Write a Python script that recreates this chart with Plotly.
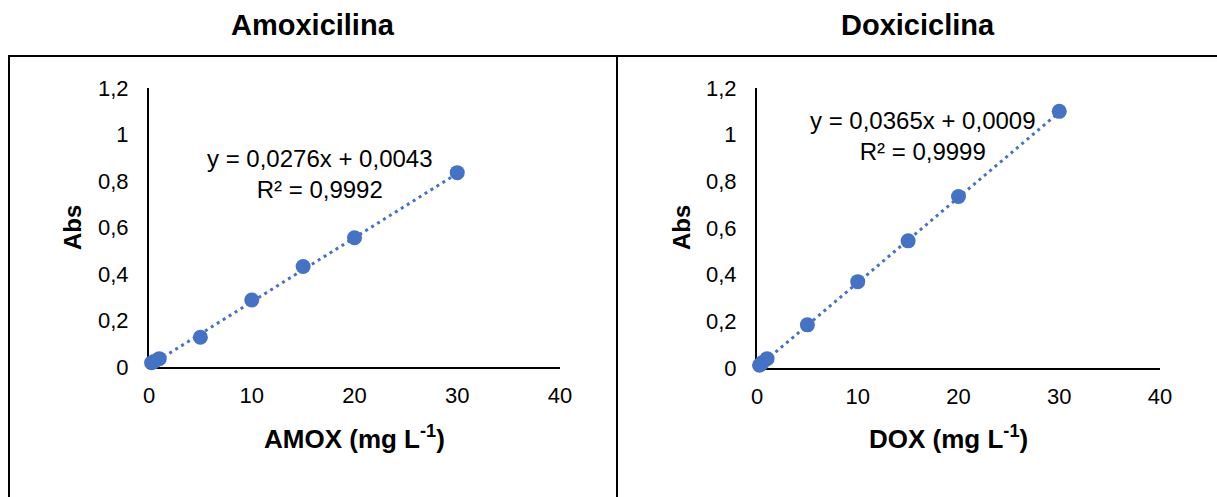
import numpy as np
import plotly.graph_objects as go

W, H = 1217, 497

# ---- data ----
titles = ["Amoxicilina", "Doxiciclina"]
amox_conc = [0.25, 0.5, 1, 5, 10, 15, 20, 30]
amox_abs = [0.018, 0.024, 0.036, 0.128, 0.288, 0.432, 0.556, 0.836]
dox_conc = [0.25, 0.5, 1, 5, 10, 15, 20, 30]
dox_abs = [0.012, 0.022, 0.040, 0.185, 0.370, 0.545, 0.735, 1.100]
amox_fit = [0.0276, 0.0043]   # slope, intercept
dox_fit = [0.0365, 0.0009]
amox_eq = ["y = 0,0276x + 0,0043", "R² = 0,9992"]
dox_eq = ["y = 0,0365x + 0,0009", "R² = 0,9999"]
x_titles = ["AMOX (mg L<sup>-1</sup>)", "DOX (mg L<sup>-1</sup>)"]
y_title = "Abs"
x_tickvals = [0, 10, 20, 30, 40]
x_ticktext = ["0", "10", "20", "30", "40"]
y_tickvals = [0, 0.2, 0.4, 0.6, 0.8, 1.0, 1.2]
y_ticktext = ["0", "0,2", "0,4", "0,6", "0,8", "1", "1,2"]

BLUE = "#4472C4"
FONT = "Liberation Sans, Arial, sans-serif"

def px(x):
    return x / W

def py(y):
    return 1 - y / H

fig = go.Figure()

panels = [
    dict(conc=amox_conc, ab=amox_abs, fit=amox_fit, eq=amox_eq, xt=x_titles[0],
         title=titles[0], xa="x", ya="y", xdom=(149, 560), ydom=(88, 367),
         tcx=313, eqx=320, eqy=174, xtx=354, ytx=72),
    dict(conc=dox_conc, ab=dox_abs, fit=dox_fit, eq=dox_eq, xt=x_titles[1],
         title=titles[1], xa="x2", ya="y2", xdom=(757, 1160), ydom=(88, 368),
         tcx=918, eqx=923, eqy=136, xtx=948, ytx=681),
]

annotations = []
for i, p in enumerate(panels):
    xs = np.array([min(p["conc"]), max(p["conc"])])
    ys = p["fit"][0] * xs + p["fit"][1]
    fig.add_trace(go.Scatter(x=xs, y=ys, mode="lines", xaxis=p["xa"], yaxis=p["ya"],
                             line=dict(color=BLUE, width=3, dash="3px,4px"),
                             showlegend=False, hoverinfo="skip"))
    fig.add_trace(go.Scatter(x=p["conc"], y=p["ab"], mode="markers", xaxis=p["xa"], yaxis=p["ya"],
                             marker=dict(color=BLUE, size=15), cliponaxis=False,
                             showlegend=False))
    sfx = "" if i == 0 else "2"
    axcommon = dict(showgrid=False, zeroline=False, showline=True, linecolor="black",
                    linewidth=2, ticks="", layer="below traces",
                    tickfont=dict(family=FONT, size=22, color="black"))
    fig.update_layout(**{
        "xaxis" + sfx: dict(axcommon, domain=[px(p["xdom"][0]), px(p["xdom"][1])],
                            range=[0, 40], tickvals=x_tickvals, ticktext=x_ticktext,
                            anchor="y" + sfx, ticklabelstandoff=8),
        "yaxis" + sfx: dict(axcommon, domain=[py(p["ydom"][1]), py(p["ydom"][0])],
                            range=[0, 1.2], tickvals=y_tickvals, ticktext=y_ticktext,
                            anchor="x" + sfx, ticklabelstandoff=14),
    })
    annotations.append(dict(text="<b>" + p["title"] + "</b>", x=px(p["tcx"]), y=py(25),
                            xref="paper", yref="paper", showarrow=False,
                            font=dict(family=FONT, size=29, color="black"),
                            xanchor="center", yanchor="middle"))
    annotations.append(dict(text="<br>".join(p["eq"]), x=px(p["eqx"]), y=py(p["eqy"]),
                            xref="paper", yref="paper", showarrow=False, align="center",
                            font=dict(family=FONT, size=24, color="black"),
                            xanchor="center", yanchor="middle"))
    annotations.append(dict(text="<b>" + p["xt"] + "</b>", x=px(p["xtx"]), y=py(437),
                            xref="paper", yref="paper", showarrow=False,
                            font=dict(family=FONT, size=26, color="black"),
                            xanchor="center", yanchor="middle"))
    annotations.append(dict(text="<b>" + y_title + "</b>", x=px(p["ytx"]), y=py(228),
                            xref="paper", yref="paper", showarrow=False, textangle=-90,
                            font=dict(family=FONT, size=24, color="black"),
                            xanchor="center", yanchor="middle"))

shapes = [
    dict(type="line", xref="paper", yref="paper", x0=px(8), x1=1, y0=py(56), y1=py(56),
         line=dict(color="black", width=2)),
    dict(type="line", xref="paper", yref="paper", x0=px(9), x1=px(9), y0=py(56), y1=0,
         line=dict(color="black", width=2)),
    dict(type="line", xref="paper", yref="paper", x0=px(617), x1=px(617), y0=py(56), y1=0,
         line=dict(color="black", width=2)),
]

fig.update_layout(width=W, height=H, margin=dict(l=0, r=0, t=0, b=0, pad=0, autoexpand=False),
                  paper_bgcolor="white", plot_bgcolor="white",
                  annotations=annotations, shapes=shapes, showlegend=False,
                  font=dict(family=FONT, color="black"))

fig.write_html("out.html")
